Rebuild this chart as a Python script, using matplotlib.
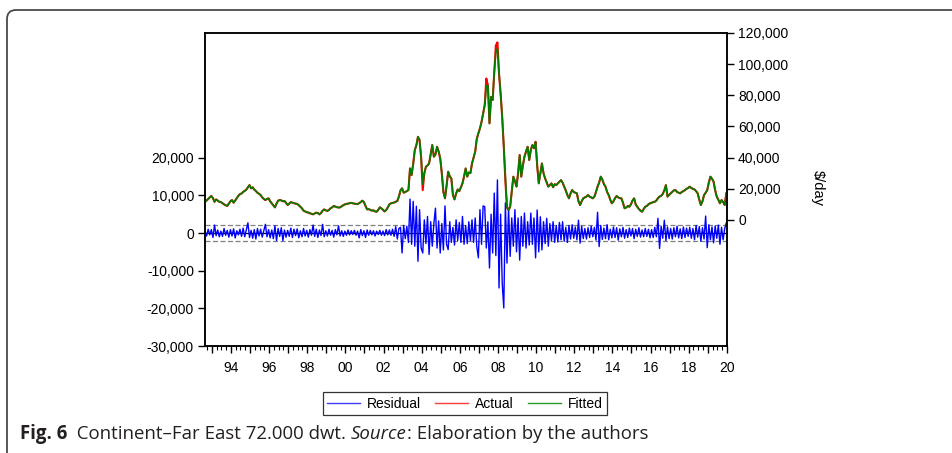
import numpy as np
import matplotlib
matplotlib.use("Agg")
import matplotlib.pyplot as plt
from matplotlib.ticker import FixedLocator, FuncFormatter
from matplotlib.patches import FancyBboxPatch
from matplotlib.lines import Line2D
from matplotlib.transforms import IdentityTransform

# ---------------- data (monthly readings, thousands of $/day) ----------------
start_year = 1992.64
years_labeled = [1994, 1996, 1998, 2000, 2002, 2004, 2006, 2008, 2010,
                 2012, 2014, 2016, 2018, 2020]
left_ticks = [-30000, -20000, -10000, 0, 10000, 20000]
right_ticks = [0, 20000, 40000, 60000, 80000, 100000, 120000]
std_err = 2150

actual_k = [
    11.7, 12.5, 13.5, 14.5, 15.4, 14.0, 11.7, 13.2, 12.5, 11.7, 11.5, 10.8, 10.0, 9.5, 9.0, 10.5, 12.0,
    12.8, 11.1, 12.5, 14.0, 15.5, 16.6, 17.0, 18.0, 18.7, 19.5, 21.0, 22.4,
    20.3, 21.0, 19.5, 18.6, 17.5, 16.8, 16.0, 14.5, 13.5, 12.8, 13.5, 13.9,
    12.0, 10.7, 9.5, 8.1, 10.5, 12.4, 12.8, 12.6, 12.0, 12.2, 11.0, 9.6,
    10.5, 11.5, 11.1, 10.8, 10.5, 10.3, 9.5, 8.5, 7.5, 6.0, 5.5, 5.0,
    4.8, 4.3, 4.0, 3.6, 4.2, 4.7, 4.5, 3.6, 4.5, 6.0, 6.8, 6.2,
    5.8, 6.5, 7.5, 8.1, 9.0, 8.6, 8.2, 8.0, 8.1, 8.8, 9.5, 10.0,
    10.3, 10.5, 10.8, 11.0, 10.7, 10.5, 10.3, 10.2, 10.8, 11.5, 12.4, 11.5,
    9.0, 6.8, 7.0, 6.5, 6.0, 6.2, 5.5, 5.3, 6.5, 8.1, 7.5, 6.5,
    5.5, 6.4, 8.0, 10.0, 10.7, 11.0, 11.2, 11.7, 12.2, 15.0, 19.0, 20.3,
    17.5, 18.0, 18.5, 19.2, 33.1, 28.8, 36.0, 44.9, 48.0, 53.4, 51.3, 40.0,
    19.2, 30.0, 34.2, 35.0, 36.3, 42.0, 48.1, 40.6, 42.0, 47.0, 44.0, 39.5,
    30.0, 18.0, 13.9, 22.0, 31.0, 28.0, 26.7, 16.0, 13.2, 17.0, 19.6, 18.5,
    21.0, 23.5, 28.0, 33.1, 27.8, 30.5, 30.1, 36.3, 40.0, 43.8, 52.0, 55.6,
    58.8, 63.0, 68.4, 73.7, 90.8, 86.5, 62.0, 79.0, 77.0, 95.0, 112.0, 114.0,
    94.0, 81.0, 66.0, 47.0, 25.0, 8.0, 6.4, 8.5, 18.0, 27.8, 25.0, 21.4,
    30.0, 41.7, 27.8, 35.0, 40.6, 44.0, 47.0, 38.5, 45.0, 48.1, 46.0, 50.2,
    35.0, 23.5, 30.0, 36.3, 30.0, 26.7, 24.0, 21.4, 22.5, 23.5, 21.0, 23.0,
    22.4, 23.5, 24.5, 25.6, 24.0, 21.4, 19.0, 16.0, 13.9, 17.0, 19.2, 18.0,
    17.5, 17.1, 12.0, 9.6, 12.0, 13.9, 14.5, 15.0, 16.0, 15.0, 14.5, 13.9,
    15.0, 18.0, 21.4, 24.0, 27.8, 26.0, 23.0, 21.4, 18.0, 16.0, 13.0, 10.7,
    12.0, 14.0, 15.4, 14.5, 14.0, 13.9, 11.0, 7.5, 8.0, 9.0, 8.5, 10.0,
    12.5, 13.9, 10.0, 8.5, 7.0, 6.0, 5.3, 7.0, 8.5, 9.0, 10.0, 10.7,
    11.0, 11.5, 11.7, 12.5, 14.0, 15.0, 15.5, 16.7, 19.0, 22.4, 15.0, 16.0,
    17.1, 18.0, 19.0, 19.2, 18.0, 17.5, 17.1, 18.0, 18.5, 19.2, 20.0, 20.5,
    21.4, 20.5, 20.0, 19.6, 18.5, 17.1, 13.0, 9.6, 12.0, 16.0, 17.5, 19.2,
    24.0, 27.8, 26.5, 24.6, 19.0, 15.0, 13.0, 10.7, 12.8, 11.5, 9.6, 17.1,
]

residual_k = [
    0.6, -0.8, 1.0, -0.5, 0.9, -1.2, 2.1, -0.7, 0.8, -1.0, 0.5, -0.9, 1.2, -0.6, 0.7, -1.1, 0.9,
    -0.8, 1.1, -1.3, 0.6, -0.5, 1.0, -0.9, 1.3, -1.0, 0.8, 2.7, -1.2,
    0.7, -1.4, 0.9, -1.6, 1.2, -0.8, 1.0, -1.1, 0.6, 2.3, -1.0, 0.9,
    -1.3, 0.8, -1.5, 1.9, -2.0, 1.2, -0.9, 1.4, -2.0, 0.8, -1.1, 0.7,
    -0.9, 1.3, -1.2, 1.0, -0.7, 1.1, -1.3, 0.6, -1.0, 1.2, -0.8, 0.7,
    -1.1, 0.9, -0.6, 2.1, -0.9, 1.0, -1.2, 0.8, -0.7, 2.3, -1.0, 0.6,
    -0.8, 1.0, -0.6, 0.7, -1.1, 0.9, -0.5, 1.9, -0.8, 0.6, -0.9, 0.5,
    -0.6, 0.8, -0.5, 0.6, -0.4, 0.7, -0.6, 0.5, -1.3, 0.9, -0.7, 0.6,
    -1.2, 0.8, -0.6, 0.7, -0.5, 0.6, -0.8, 0.5, -0.4, 0.7, -0.6, 0.5,
    -0.7, 0.9, -0.5, 0.8, -0.6, 1.0, -0.9, 1.7, -1.6, 1.2, 1.5, -5.3,
    2.0, -1.5, 1.8, -2.5, 9.0, -3.0, 8.4, -3.5, 7.1, -7.5, 6.2, -4.0,
    -5.3, 3.5, -2.8, 4.4, -5.7, 3.0, -3.5, 2.5, 6.6, -4.0, 3.2, -5.3,
    2.5, -4.5, 7.2, -3.0, -4.4, 3.0, -2.5, 1.5, -3.2, 3.5, -2.0, 2.8,
    -2.5, 4.4, -3.0, 2.0, -2.8, 3.0, -2.0, 3.5, -2.5, 4.0, -3.5, -6.6,
    6.2, -3.0, 7.2, 7.0, -4.0, 3.0, -9.3, 5.0, -5.3, 10.6, -6.0, 14.1,
    -14.6, 5.0, -13.3, -19.9, 8.0, -8.0, 6.6, -6.2, 4.0, -3.5, 6.2, -5.0,
    4.0, -7.2, 4.4, -3.5, 5.3, -4.0, 3.0, -3.2, 5.3, -3.0, 4.0, -6.6,
    6.1, -5.0, 4.3, -4.5, 3.0, -2.8, 3.9, -3.5, 2.5, -2.0, 3.0, -2.5,
    2.0, -2.4, 2.8, -1.8, 3.0, -2.2, 1.5, -2.5, 2.0, -1.6, 2.2, -1.4,
    1.6, -1.8, 3.4, -2.7, 1.8, -1.5, 1.2, -1.6, 1.4, -1.2, 1.8, -1.0,
    1.5, -1.9, 5.5, -3.6, 2.0, -1.7, 1.3, -1.5, 2.2, -1.8, 1.0, -1.3,
    1.6, -1.2, 1.4, -1.9, 1.1, -1.0, 1.5, -1.4, 0.9, -1.2, 1.3, -0.8,
    1.2, -1.5, 1.0, -0.9, 1.4, -1.1, 0.8, -1.0, 1.2, -0.9, 1.0, -1.3,
    0.9, -1.2, 1.5, -1.0, 3.9, -4.1, 1.8, -1.4, 3.4, -2.0, 1.6, -1.5,
    1.2, -1.6, 1.4, -1.0, 1.8, -1.3, 1.1, -1.5, 1.6, -1.2, 1.3, -0.9,
    1.5, -1.4, 1.2, -1.8, 2.0, -1.1, 1.7, -2.2, 1.4, -1.6, 4.5, -3.9,
    2.2, -1.8, 1.6, -2.6, 1.9, -1.4, 2.1, -3.0, 1.5, -1.8, 1.2, 2.7,
]

# fitted mostly coincides with actual; where the red line shows through
fitted_diff_k = {183: 108.0, 184: 110.0, 189: 29.0, 137: 23.0, 177: 86.0}

# ---------------- build series ----------------
n = min(len(actual_k), len(residual_k))
t = start_year + np.arange(n) / 12.0
actual = np.array(actual_k[:n]) * 1000
residual = np.array(residual_k[:n]) * 1000
fitted_list = list(actual_k[:n])
for i, v in fitted_diff_k.items():
    if i < n:
        fitted_list[i] = v
fitted = np.array(fitted_list) * 1000

# ---------------- figure ----------------
W, H = 953, 453
fig = plt.figure(figsize=(W / 100, H / 100), dpi=100)
fig.patch.set_facecolor("white")

# rounded frame of the figure panel (drawn in pixel units)
frame = FancyBboxPatch((7, -40), W + 40, H + 40 - 10,
                       boxstyle="round,pad=0,rounding_size=9",
                       transform=IdentityTransform(), fill=False,
                       edgecolor="#4a4a4a", linewidth=1.3, clip_on=False)
fig.patches.append(frame)

font = ["Liberation Sans", "DejaVu Sans"]
plt.rcParams["font.family"] = font

ax = fig.add_axes([205 / W, 1 - 346 / H, (727 - 205) / W, (346 - 33) / H])
ax2 = ax.twinx()

# residual (left axis)
ax.axhline(0, color="black", lw=0.9, zorder=1)
ax.axhline(std_err, color="#808080", lw=0.9, ls=(0, (4, 2)), zorder=1)
ax.axhline(-std_err, color="#808080", lw=0.9, ls=(0, (4, 2)), zorder=1)
ax.plot(t, residual, color="#0000ff", lw=1.0, zorder=2)

# actual & fitted (right axis)
ax2.plot(t, actual, color="#ff0000", lw=1.5)
ax2.plot(t, fitted, color="#008000", lw=1.2)

ax.set_xlim(start_year, 2020.01)
ax.set_ylim(-30000, 53100)
ax2.set_ylim(-80860, 120000)

comma = FuncFormatter(lambda v, p: f"{int(v):,}")
ax.yaxis.set_major_locator(FixedLocator(left_ticks))
ax.yaxis.set_major_formatter(comma)
ax2.yaxis.set_major_locator(FixedLocator(right_ticks))
ax2.yaxis.set_major_formatter(comma)

ax.xaxis.set_major_locator(FixedLocator(list(range(1993, 2021))))
ax.xaxis.set_minor_locator(FixedLocator([y + q / 4 for y in range(1992, 2021)
                                         for q in range(4)]))
ax.xaxis.set_major_formatter(FuncFormatter(
    lambda v, p: f"{int(round(v)) % 100:02d}" if int(round(v)) in years_labeled else ""))

ax.tick_params(axis="y", direction="out", length=5, width=1, labelsize=10, pad=3)
ax2.tick_params(axis="y", direction="out", length=5, width=1, labelsize=10, pad=3)
ax.tick_params(axis="x", which="major", direction="out", length=5, width=1,
               labelsize=10, pad=6)
ax.tick_params(axis="x", which="minor", direction="out", length=3, width=0.8)

for a in (ax, ax2):
    for s in a.spines.values():
        s.set_linewidth(1.1)
        s.set_color("black")

fig.text(818 / W, 1 - 188 / H, "$/day", rotation=-90, ha="center", va="center",
         fontsize=10.5)

# legend
handles = [Line2D([], [], color="#3c3cff", lw=1.0),
           Line2D([], [], color="#ff3c3c", lw=1.0),
           Line2D([], [], color="#2a9a2a", lw=1.0)]
leg = fig.legend(handles, ["Residual", "Actual", "Fitted"], ncol=3,
                 loc="center", bbox_to_anchor=(465 / W, 1 - 403.5 / H),
                 fontsize=10, frameon=True, fancybox=False, edgecolor="black",
                 handlelength=2.4, columnspacing=1.0, handletextpad=0.5,
                 borderpad=0.3, borderaxespad=0)
leg.get_frame().set_linewidth(0.9)

# caption
cap_font = ["Open Sans", "DejaVu Sans"]
renderer = fig.canvas.get_renderer()
x0 = 20 / W
yc = 1 - 434 / H
parts = [("Fig. 6", "bold", "normal"),
         ("  Continent\u2013Far East 72.000 dwt. ", "normal", "normal"),
         ("Source", "normal", "italic"),
         (": Elaboration by the authors", "normal", "normal")]
x = x0
for txt, wt, st in parts:
    tt = fig.text(x, yc, txt, fontsize=13.4, fontweight=wt, fontstyle=st,
                  family=cap_font, ha="left", va="center", color="#231f20")
    bb = tt.get_window_extent(renderer=renderer)
    x = bb.x1 / W

fig.savefig("out.png", dpi=100, facecolor="white")
